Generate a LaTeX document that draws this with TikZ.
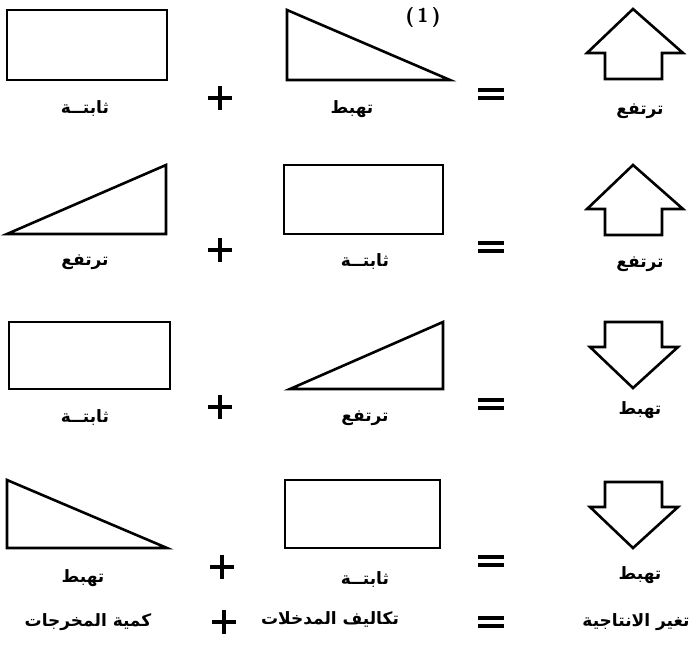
\documentclass[tikz,border=0pt]{standalone}
\usepackage{fontspec}
\newfontfamily\arabicfont[Script=Arabic]{DejaVu Sans}
\TeXXeTstate=1

\begin{document}
\begin{tikzpicture}[
    x=1pt, y=-1pt,
    outline/.style={draw, line width=2.6pt, line join=miter},
    opline/.style={draw, line width=3.5pt},
    lbl/.style={font=\arabicfont\bfseries\fontsize{17}{19}\selectfont, inner sep=0pt},
    plussign/.pic={\draw[opline] (-12,0) -- (12,0) (0,-12) -- (0,12);},
    eqsign/.pic={\draw[opline] (-13,-4) -- (13,-4) (-13,4) -- (13,4);},
    uparrow/.pic={\draw[outline] (0,0) -- (50,44) -- (29,44) -- (29,70) -- (-28,70) -- (-28,44) -- (-46,44) -- cycle;},
    downarrow/.pic={\draw[outline] (-28,0) -- (29,0) -- (29,25) -- (45,25) -- (0,66) -- (-43,25) -- (-28,25) -- cycle;}
]
\useasboundingbox (0,0) rectangle (689,649);

% row 1
\draw[outline] (7,10) rectangle (167,80);
\draw[outline] (287,10) -- (287,80) -- (450,80) -- cycle;
\pic at (633,9) {uparrow};
\node[font=\sffamily\bfseries\fontsize{20}{22}\selectfont, inner sep=0pt] (mark) at (423,17) {(\,1\,)};
\node[lbl] (fixA) at (85,109) {\beginR ثابتــة\endR};
\node[lbl] (fallA) at (352,109) {\beginR تهبط\endR};
\node[lbl] (riseA) at (640,111) {\beginR ترتفع\endR};
\pic at (220,98) {plussign};
\pic at (491,94) {eqsign};

% row 2
\draw[outline] (7,234) -- (166,165) -- (166,234) -- cycle;
\draw[outline] (284,165) rectangle (443,234);
\pic at (633,165) {uparrow};
\node[lbl] (riseB) at (85,262) {\beginR ترتفع\endR};
\node[lbl] (fixB) at (365,262) {\beginR ثابتــة\endR};
\node[lbl] (riseC) at (640,264) {\beginR ترتفع\endR};
\pic at (220,250) {plussign};
\pic at (491,247) {eqsign};

% row 3
\draw[outline] (9,322) rectangle (170,389);
\draw[outline] (290,389) -- (443,322) -- (443,389) -- cycle;
\pic at (633,322) {downarrow};
\node[lbl] (fixC) at (85,418) {\beginR ثابتــة\endR};
\node[lbl] (riseD) at (365,418) {\beginR ترتفع\endR};
\node[lbl] (fallB) at (640,410) {\beginR تهبط\endR};
\pic at (220,407) {plussign};
\pic at (491,404) {eqsign};

% row 4
\draw[outline] (7,480) -- (7,548) -- (167,548) -- cycle;
\draw[outline] (285,480) rectangle (440,548);
\pic at (633,482) {downarrow};
\node[lbl] (fallC) at (83,578) {\beginR تهبط\endR};
\node[lbl] (fixD) at (365,580) {\beginR ثابتــة\endR};
\node[lbl] (fallD) at (640,575) {\beginR تهبط\endR};
\pic at (222,567) {plussign};
\pic at (491,561) {eqsign};

% totals
\node[lbl] (output) at (88,622) {\beginR كمية المخرجات\endR};
\node[lbl] (inputs) at (330,619) {\beginR تكاليف المدخلات\endR};
\node[lbl] (change) at (636,622) {\beginR تغير الانتاجية\endR};
\pic at (224,622) {plussign};
\pic at (491,622) {eqsign};
\end{tikzpicture}
\end{document}
